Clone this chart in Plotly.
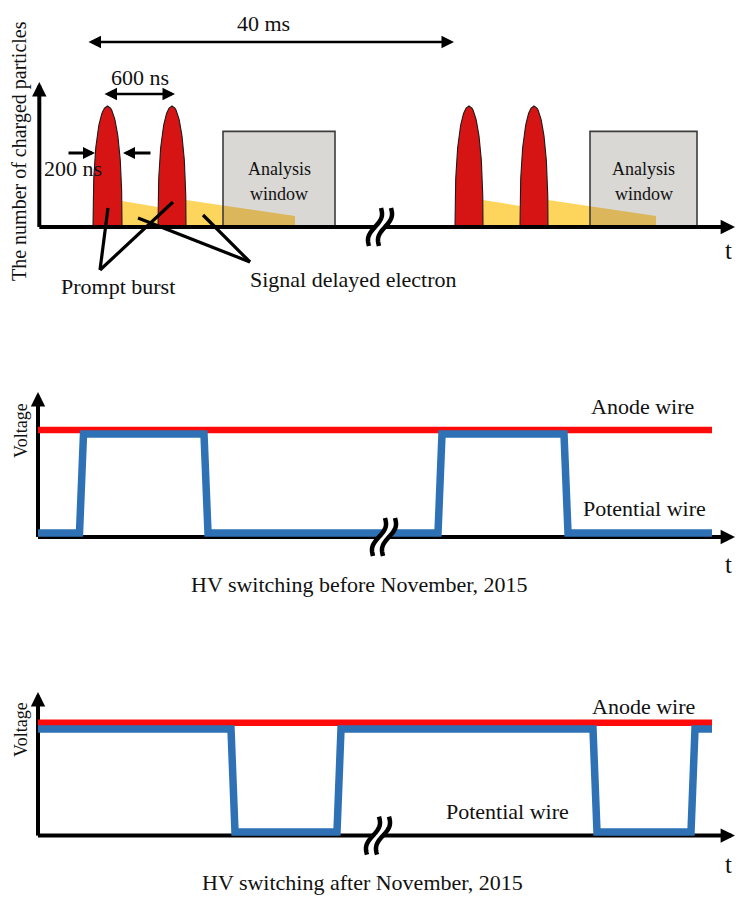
import numpy as np
import plotly.graph_objects as go

W, H = 736, 897

# ---------------- data (diagram time units, arbitrary levels) ----------------
# Panel 1: number of charged particles
burst_time = [107.5, 172.0, 469.0, 534.0]
burst_peak = [1.0, 1.0, 1.0, 1.0]
burst_halfwidth = [14.5, 14.0, 14.0, 14.0]
tail_start = [122.0, 186.0, 483.0, 548.0]
tail_end = [158.0, 295.0, 520.0, 656.0]
tail_level_start = [0.215, 0.223, 0.223, 0.223]
tail_level_end = [0.165, 0.091, 0.174, 0.091]
window_start = [223.0, 590.0]
window_end = [335.0, 697.0]
window_level = [0.79, 0.79]
window_labels = ["Analysis", "window"]

# Panel 2: HV switching before November 2015 (normalised voltage)
before_edges = [38.0, 81.5, 206.0, 440.0, 566.0, 712.0]
before_levels = [0, 1, 0, 1, 0]
before_anode = 1.04

# Panel 3: HV switching after November 2015
after_edges = [38.0, 233.0, 339.0, 595.0, 693.0, 712.0]
after_levels = [1, 0, 1, 0, 1]
after_anode = 1.06

anode_span = [38.0, 712.0]
break_time = [380.0, 384.0, 378.0]
axis_level = [0.0, -0.04, -0.035]

# ---------------- layout helpers (pixel geometry) ----------------
PANELS = [
    dict(top=0, bot=300, base=227, unit=121, yaxis_x=39.3, ytip=82),
    dict(top=300, bot=605, base=533, unit=99, yaxis_x=38.0, ytip=392),
    dict(top=605, bot=897, base=832, unit=103, yaxis_x=38.0, ytip=692),
]
XTIP = 735
FONT = "Liberation Serif"
INK = "#111111"
LBL = 22


def PX(x):
    return x / W


def PY(y):
    return 1 - y / H


def to_py(i, level):
    p = PANELS[i]
    return p["base"] - level * p["unit"]


def to_level(i, py):
    p = PANELS[i]
    return (p["base"] - py) / p["unit"]


fig = go.Figure()


def add(i, x, y, **kw):
    sfx = "" if i == 0 else str(i + 1)
    kw.setdefault("mode", "lines")
    fig.add_trace(go.Scatter(x=x, y=y, xaxis="x" + sfx, yaxis="y" + sfx,
                             hoverinfo="skip", showlegend=False, **kw))


# ---------------- Panel 1 ----------------
for ws, we, wl in zip(window_start, window_end, window_level):
    add(0, [ws, we, we, ws, ws], [0, 0, wl, wl, 0], fill="toself",
        fillcolor="#D9D8D5", line=dict(width=0))

for t0, t1, y0, y1 in zip(tail_start, tail_end, tail_level_start, tail_level_end):
    def top(t):
        return y0 + (y1 - y0) * (t - t0) / (t1 - t0)
    cuts = sorted([t0] + [w for w in window_start + window_end if t0 < w < t1] + [t1])
    for a, b in zip(cuts[:-1], cuts[1:]):
        mid = 0.5 * (a + b)
        inside = any(ws <= mid <= we for ws, we in zip(window_start, window_end))
        col = "#DBB65B" if inside else "#FDD55C"
        add(0, [a, a, b, b, a], [0, top(a), top(b), 0, 0], fill="toself",
            fillcolor=col, line=dict(width=0))

for ws, we, wl in zip(window_start, window_end, window_level):
    add(0, [ws, we, we, ws, ws], [0, 0, wl, wl, 0], line=dict(color="#3C3C3C", width=1.6))

hh = np.linspace(0, 1, 60)
for c, pk, hw in zip(burst_time, burst_peak, burst_halfwidth):
    half = hw * np.sqrt(np.clip(1 - hh ** 2.5, 0, 1))
    xs = np.concatenate([c - half, (c + half)[::-1]])
    ys = np.concatenate([hh * pk, (hh * pk)[::-1]])
    add(0, list(xs), list(ys), fill="toself", fillcolor="#D71414",
        line=dict(color="#1a1a1a", width=1.1))

# ---------------- Panels 2 & 3 ----------------
def step_path(edges, levels, d=2.0):
    xs, ys = [edges[0]], [levels[0]]
    for k in range(1, len(levels)):
        t = edges[k]
        xs += [t - d, t + d]
        ys += [levels[k - 1], levels[k]]
    xs.append(edges[-1])
    ys.append(levels[-1])
    return xs, ys


for i in (0, 1, 2):
    p = PANELS[i]
    add(i, [p["yaxis_x"], XTIP - 8], [axis_level[i]] * 2, line=dict(color="black", width=4))
    add(i, [p["yaxis_x"]] * 2, [axis_level[i], to_level(i, p["ytip"] + 8)],
        line=dict(color="black", width=4))

for i, anode, edges, levels in ((1, before_anode, before_edges, before_levels),
                                (2, after_anode, after_edges, after_levels)):
    add(i, anode_span, [anode, anode], line=dict(color="#FF0A0A", width=6.5))
    xs, ys = step_path(edges, levels)
    add(i, xs, ys, line=dict(color="#2E72B5", width=7.5))

# ---------------- arrows ----------------
def arrow(x0, y0, x1, y1, width, size, both=False):
    fig.add_annotation(x=PX(x1), y=PY(y1), ax=x0 - x1, ay=y0 - y1,
                       axref="pixel", ayref="pixel", xref="paper", yref="paper",
                       text="", showarrow=True, arrowhead=2, arrowsize=size,
                       arrowwidth=width, arrowcolor="black",
                       arrowside="end+start" if both else "end",
                       startarrowhead=2, startarrowsize=size,
                       font=dict(size=1))


for i in (0, 1, 2):
    p = PANELS[i]
    yb = to_py(i, axis_level[i])
    arrow(XTIP - 12, yb, XTIP, yb, 4, 0.72)
    arrow(p["yaxis_x"], p["ytip"] + 12, p["yaxis_x"], p["ytip"], 4, 0.72)

arrow(87, 42, 454, 42, 2.5, 1.0, both=True)
arrow(103, 94, 175, 94, 2.5, 1.0, both=True)
arrow(67, 153, 95, 153, 3, 0.8)
arrow(152, 153, 123, 153, 3, 0.8)

# ---------------- leader lines ----------------
leaders = [((100, 270), (108, 208)), ((100, 270), (173, 202)),
           ((250, 262), (138, 218)), ((250, 262), (203, 215))]
for (xa, ya), (xb, yb) in leaders:
    fig.add_shape(type="line", xref="paper", yref="paper",
                  x0=PX(xa), y0=PY(ya), x1=PX(xb), y1=PY(yb),
                  line=dict(color="black", width=3.2))

# ---------------- axis break glyphs ----------------
s = np.linspace(0, 1, 30)


def glyph_path(cx, cy, off):
    dx = off + 6 - 12 * s + 3.5 * np.sin(2 * np.pi * s)
    dy = -19 + 38 * s
    pts = [f"{PX(cx + a):.5f},{PY(cy + b):.5f}" for a, b in zip(dx, dy)]
    return "M" + " L".join(pts)


for i in (0, 1, 2):
    cx = break_time[i]
    cy = to_py(i, axis_level[i])
    fig.add_shape(type="path", xref="paper", yref="paper", path=glyph_path(cx, cy, 0),
                  line=dict(color="white", width=7))
    for off in (-5, 5):
        fig.add_shape(type="path", xref="paper", yref="paper", path=glyph_path(cx, cy, off),
                      line=dict(color="black", width=4.5))

# ---------------- text ----------------
def label(text, x, y, size=LBL, angle=0):
    fig.add_annotation(text=text, x=PX(x), y=PY(y), xref="paper", yref="paper",
                       showarrow=False, textangle=angle, xanchor="center", yanchor="middle",
                       font=dict(family=FONT, size=size, color=INK))


label("40 ms", 263, 23)
label("600 ns", 140, 78)
label("200 ns", 73, 168)
for ws, we in zip(window_start, window_end):
    label(window_labels[0], (ws + we) / 2, 169, size=18)
    label(window_labels[1], (ws + we) / 2, 194, size=18)
label("Prompt burst", 118, 286)
label("Signal delayed electron", 353, 279)
label("t", 728, 251, size=25)
label("The number of charged particles", 20, 151, size=20, angle=-90)

label("Anode wire", 642, 406)
label("Potential wire", 644, 508)
label("HV switching before November, 2015", 359, 584)
label("t", 728, 564, size=25)
label("Voltage", 21, 431, size=18, angle=-90)

label("Anode wire", 643, 706)
label("Potential wire", 508, 811)
label("HV switching after November, 2015", 362, 882)
label("t", 728, 864, size=25)
label("Voltage", 21, 730, size=18, angle=-90)

# ---------------- axes ----------------
lay = {}
for i, p in enumerate(PANELS):
    sfx = "" if i == 0 else str(i + 1)
    lay["xaxis" + sfx] = dict(domain=[0, 1], range=[0, W], visible=False,
                              anchor="y" + sfx, fixedrange=True)
    lay["yaxis" + sfx] = dict(domain=[1 - p["bot"] / H, 1 - p["top"] / H],
                              range=[to_level(i, p["bot"]), to_level(i, p["top"])],
                              visible=False, anchor="x" + sfx, fixedrange=True)

fig.update_layout(width=W, height=H, margin=dict(l=0, r=0, t=0, b=0),
                  paper_bgcolor="white", plot_bgcolor="rgba(0,0,0,0)",
                  showlegend=False, **lay)

fig.write_html("out.html", config={"displayModeBar": False},
               post_script="document.body.style.margin='0';document.body.style.overflow='hidden';")
